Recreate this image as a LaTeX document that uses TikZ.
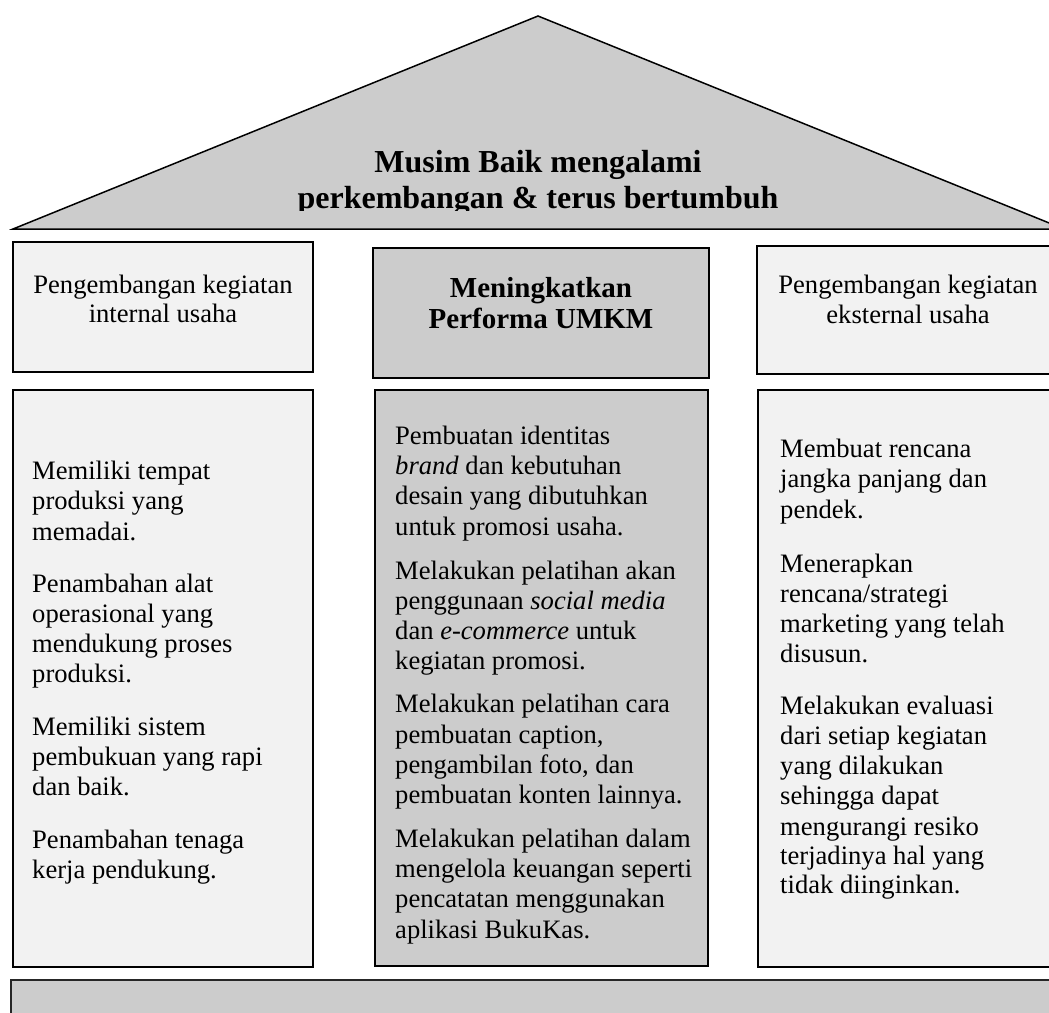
\documentclass[tikz,border=0pt]{standalone}
\usepackage{fontspec}
\setmainfont{Liberation Serif}
\definecolor{lightbox}{HTML}{F2F2F2}
\definecolor{midbox}{HTML}{CCCCCC}
\begin{document}
\begin{tikzpicture}[x=1pt,y=-1pt,
  box/.style={draw=black,line width=1.8pt,anchor=north west,inner sep=0pt,outer sep=0pt},
  lightfill/.style={box,fill=lightbox},
  midfill/.style={box,fill=midbox},
  body/.style={anchor=base west,inner sep=0pt,font=\fontsize{26.6}{30}\selectfont},
  headtext/.style={anchor=base,inner sep=0pt,font=\fontsize{26.6}{30}\selectfont},
  headbold/.style={anchor=base,inner sep=0pt,font=\fontsize{29}{33}\selectfont\bfseries},
  rooftext/.style={anchor=base,inner sep=0pt,font=\fontsize{32}{36}\selectfont\bfseries}
]
\clip (0,0) rectangle (1049,1012);
\fill[white] (0,0) rectangle (1049,1012);

% roof
\draw[line width=1.5pt,fill=midbox,line join=miter] (13,229) -- (538,16) -- (1064,229) -- cycle;
\begin{scope}
  \clip (0,0) rectangle (1049,210);
  \node[rooftext] (roof1) at (538,172) {Musim Baik mengalami};
  \node[rooftext] (roof2) at (538,208) {perkembangan \& terus bertumbuh};
\end{scope}

% top boxes
\node[lightfill,minimum width=300pt,minimum height=130pt] (tl) at (13,242) {};
\node[midfill,minimum width=336pt,minimum height=130pt] (tm) at (373,248) {};
\node[lightfill,minimum width=303pt,minimum height=128pt] (tr) at (757,246) {};

\node[headtext] (tl1) at (163,293) {Pengembangan kegiatan};
\node[headtext] (tl2) at (163,322) {internal usaha};
\node[headbold] (tm1) at (541,297) {Meningkatkan};
\node[headbold] (tm2) at (541,328) {Performa UMKM};
\node[headtext] (tr1) at (908,293) {Pengembangan kegiatan};
\node[headtext] (tr2) at (908,323) {eksternal usaha};

% pillars
\node[lightfill,minimum width=300pt,minimum height=577pt] (bl) at (13,390) {};
\node[midfill,minimum width=333pt,minimum height=576pt] (bm) at (375,390) {};
\node[lightfill,minimum width=302pt,minimum height=577pt] (br) at (758,390) {};

% base
\node[midfill,draw=black!85,line width=1.5pt,minimum width=1060pt,minimum height=60pt] (base) at (11,980) {};

% left column
\node[body] (l1) at (32,479) {Memiliki tempat};
\node[body] (l2) at (32,509) {produksi yang};
\node[body] (l3) at (32,540) {memadai.};
\node[body] (l4) at (32,592) {Penambahan alat};
\node[body] (l5) at (32,622) {operasional yang};
\node[body] (l6) at (32,652) {mendukung proses};
\node[body] (l7) at (32,682) {produksi.};
\node[body] (l8) at (32,735) {Memiliki sistem};
\node[body] (l9) at (32,765) {pembukuan yang rapi};
\node[body] (l10) at (32,795) {dan baik.};
\node[body] (l11) at (32,848) {Penambahan tenaga};
\node[body] (l12) at (32,878) {kerja pendukung.};

% middle column
\node[body] (m1) at (395,444) {Pembuatan identitas};
\node[body] (m2) at (395,474) {\textit{brand} dan kebutuhan};
\node[body] (m3) at (395,504) {desain yang dibutuhkan};
\node[body] (m4) at (395,535) {untuk promosi usaha.};
\node[body] (m5) at (395,579) {Melakukan pelatihan akan};
\node[body] (m6) at (395,609) {penggunaan \textit{social media}};
\node[body] (m7) at (395,639) {dan \textit{e-commerce} untuk};
\node[body] (m8) at (395,669) {kegiatan promosi.};
\node[body] (m9) at (395,712) {Melakukan pelatihan cara};
\node[body] (m10) at (395,743) {pembuatan caption,};
\node[body] (m11) at (395,773) {pengambilan foto, dan};
\node[body] (m12) at (395,803) {pembuatan konten lainnya.};
\node[body] (m13) at (395,847) {Melakukan pelatihan dalam};
\node[body] (m14) at (395,877) {mengelola keuangan seperti};
\node[body] (m15) at (395,907) {pencatatan menggunakan};
\node[body] (m16) at (395,938) {aplikasi BukuKas.};

% right column
\node[body] (r1) at (780,457) {Membuat rencana};
\node[body] (r2) at (780,487) {jangka panjang dan};
\node[body] (r3) at (780,518) {pendek.};
\node[body] (r4) at (780,572) {Menerapkan};
\node[body] (r5) at (780,602) {rencana/strategi};
\node[body] (r6) at (780,632) {marketing yang telah};
\node[body] (r7) at (780,662) {disusun.};
\node[body] (r8) at (780,714) {Melakukan evaluasi};
\node[body] (r9) at (780,744) {dari setiap kegiatan};
\node[body] (r10) at (780,774) {yang dilakukan};
\node[body] (r11) at (780,804) {sehingga dapat};
\node[body] (r12) at (780,835) {mengurangi resiko};
\node[body] (r13) at (780,864) {terjadinya hal yang};
\node[body] (r14) at (780,893) {tidak diinginkan.};
\end{tikzpicture}
\end{document}
